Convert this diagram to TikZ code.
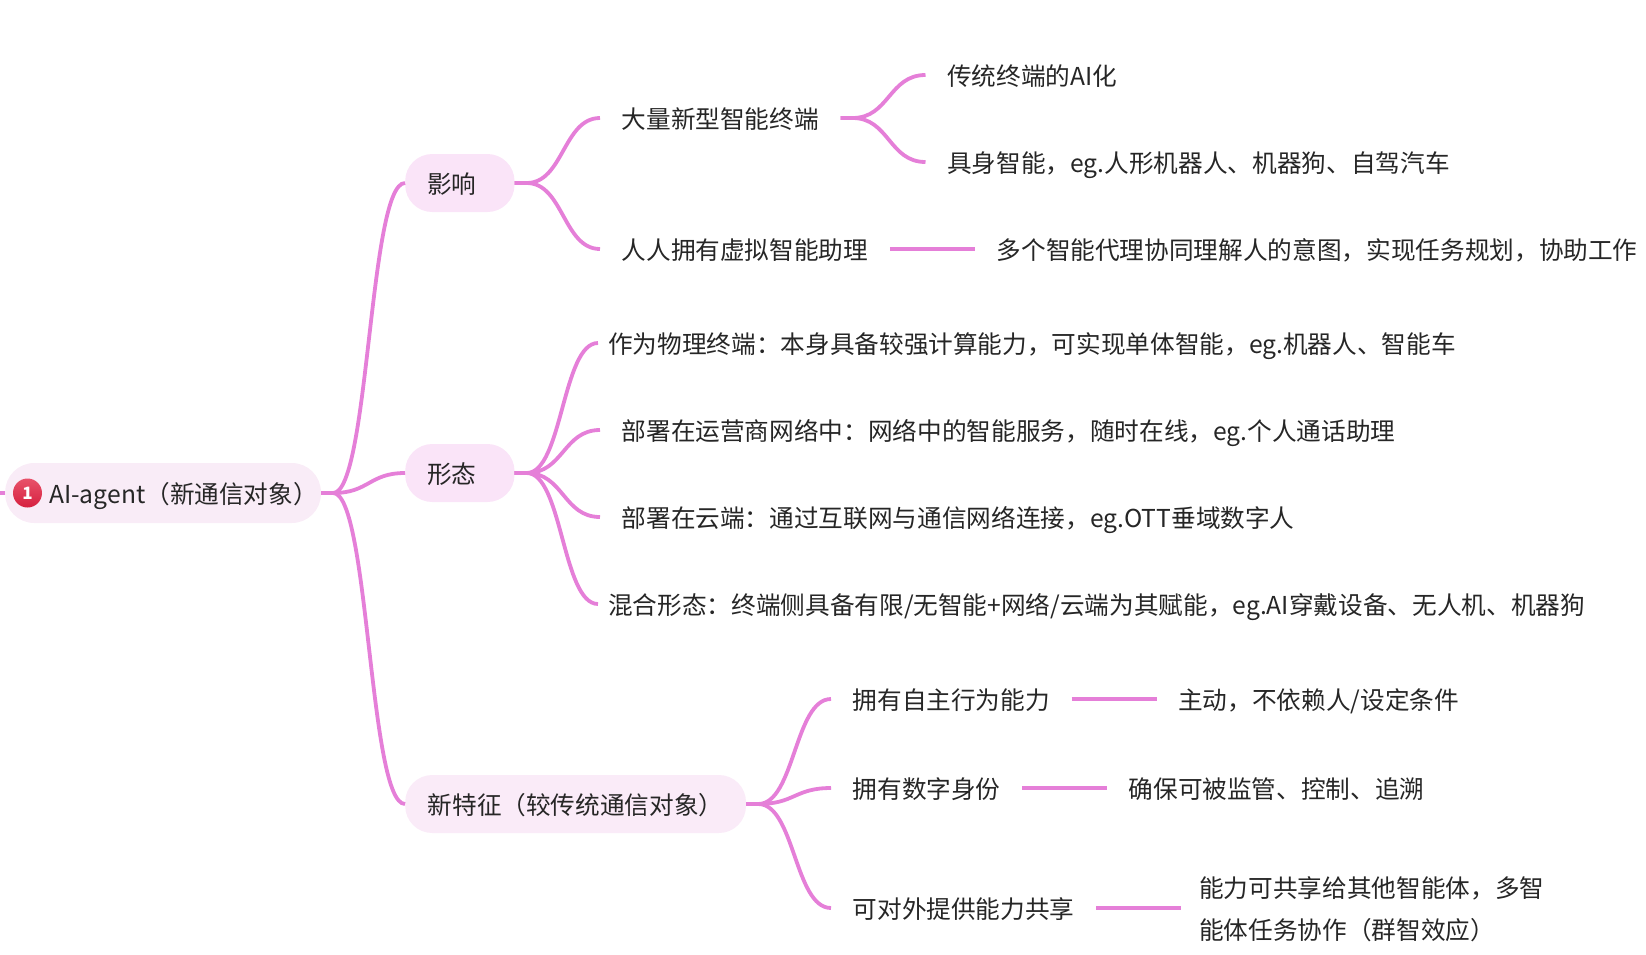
\documentclass[tikz,border=0pt]{standalone}
\usepackage{fontspec}
\setmainfont{Noto Sans CJK SC}
\usetikzlibrary{calc}
\definecolor{linkc}{HTML}{E57FD8}
\definecolor{rootc}{HTML}{F9ECF7}
\definecolor{pillc}{HTML}{FAE4F8}
\definecolor{midc}{HTML}{FAEBF8}
\definecolor{inkc}{HTML}{262626}
\definecolor{badgetop}{HTML}{E8526A}
\definecolor{badgebot}{HTML}{D6203F}
\tikzset{
  every node/.style={text=inkc,font=\fontsize{24.65pt}{42pt}\selectfont,text height=22pt,text depth=1.2pt},
  pill/.style={anchor=west,rounded corners=27pt,inner xsep=22pt,inner ysep=0pt,minimum height=58pt},
  item/.style={anchor=west,inner xsep=21.5pt,inner ysep=0pt,align=left},
  link/.style={draw=linkc,line width=3.8pt},
}
\newcommand{\conn}[2]{%
  \coordinate (p) at ($(#1.east)+(12,0)$);
  \coordinate (m) at ($(p)!0.5!(#2.west)$);
  \draw[link] (#1.east) -- (p) .. controls (p -| m) and (#2.west -| m) .. (#2.west);
}
\begin{document}
\begin{tikzpicture}[x=1pt,y=-1pt]
\useasboundingbox (0,0) rectangle (1646,954);
% pills
\node[pill,fill=rootc,minimum height=60pt,rounded corners=29pt,inner xsep=3pt] (root) at (5,493) {\hspace*{41pt}AI-agent（新通信对象）};
\node[pill,fill=pillc,minimum width=109pt,align=left] (yx) at (405,183) {影响\hspace*{16pt}};
\node[pill,fill=pillc,minimum width=109pt,align=left] (xt) at (405,473) {形态\hspace*{16pt}};
\node[pill,fill=midc,inner xsep=22.5pt] (xtz) at (405,804) {新特征（较传统通信对象）};
\shade[top color=badgetop,bottom color=badgebot] (27.5,493) circle (14.5pt);
\node[text=white,font=\fontsize{17pt}{18pt}\bfseries\selectfont,text height=12pt,text depth=0pt,inner sep=0pt] (badge) at (27.5,493) {1};
\coordinate (stub) at (0,493);
\draw[link] (stub) -- (root.west);
% level 2
\node[item] (a1) at (600,118) {大量新型智能终端};
\node[item] (a2) at (600,249) {人人拥有虚拟智能助理};
\node[item] (a11) at (925.5,75) {传统终端的AI化};
\node[item] (a12) at (925.5,162) {具身智能，eg.人形机器人、机器狗、自驾汽车};
\node[item] (a21) at (975,249) {多个智能代理协同理解人的意图，实现任务规划，协助工作};
\node[item] (b1) at (598,343) {\hspace*{-11.5pt}作为物理终端：本身具备较强计算能力，可实现单体智能，eg.机器人、智能车};
\node[item] (b2) at (600,430) {部署在运营商网络中：网络中的智能服务，随时在线，eg.个人通话助理};
\node[item] (b3) at (600,517) {部署在云端：通过互联网与通信网络连接，eg.OTT垂域数字人};
\node[item] (b4) at (598,604) {\hspace*{-11.5pt}混合形态：终端侧具备有限/无智能+网络/云端为其赋能，eg.AI穿戴设备、无人机、机器狗};
\node[item] (c1) at (831,699) {拥有自主行为能力};
\node[item] (c2) at (831,788) {拥有数字身份};
\node[item] (c3) at (831,908) {可对外提供能力共享};
\node[item] (c11) at (1156.5,699) {主动，不依赖人/设定条件};
\node[item] (c21) at (1107,788) {确保可被监管、控制、追溯};
\node[item,inner xsep=18pt,text height=64pt,text depth=1.2pt] (c31) at (1181,908) {能力可共享给其他智能体，多智\\能体任务协作（群智效应）};
% connectors
\conn{root}{yx}\conn{root}{xt}\conn{root}{xtz}
\conn{yx}{a1}\conn{yx}{a2}
\conn{a1}{a11}\conn{a1}{a12}
\conn{xt}{b1}\conn{xt}{b2}\conn{xt}{b3}\conn{xt}{b4}
\conn{xtz}{c1}\conn{xtz}{c2}\conn{xtz}{c3}
\draw[link] (a2.east) -- (a21.west);
\draw[link] (c1.east) -- (c11.west);
\draw[link] (c2.east) -- (c21.west);
\draw[link] (c3.east) -- (c31.west);
\end{tikzpicture}
\end{document}
